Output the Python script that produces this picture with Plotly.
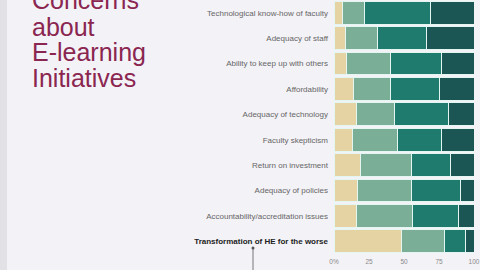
import plotly.graph_objects as go

categories = [
    "Technological know-how of faculty",
    "Adequacy of staff",
    "Ability to keep up with others",
    "Affordability",
    "Adequacy of technology",
    "Faculty skepticism",
    "Return on investment",
    "Adequacy of policies",
    "Accountability/accreditation issues",
    "Transformation of HE for the worse",
]
seg1 = [6, 8, 9, 14, 16, 13, 19, 17, 16, 48]
seg2 = [16, 23, 31, 26, 27, 32, 36, 38, 40, 31]
seg3 = [47, 35, 37, 35, 39, 32, 28, 35, 33, 15]
seg4 = [31, 34, 23, 25, 18, 23, 17, 10, 11, 6]
colors = ["#e6d3a3", "#7aae96", "#1f7b6d", "#1b5654"]
tick_vals = [0, 25, 50, 75, 100]
tick_text = ["0%", "25", "50", "75", "100"]
title_lines = ["Concerns", "about", "E-learning", "Initiatives"]

ticktext = categories[:-1] + ["<b><span style='color:#222222'>" + categories[-1] + "</span></b>"]

fig = go.Figure()
for vals, col in zip([seg1, seg2, seg3, seg4], colors):
    fig.add_trace(go.Bar(
        y=categories, x=vals, orientation="h",
        marker=dict(color=col, line=dict(color="#e4f6f2", width=1)),
        showlegend=False,
    ))

L, R = 334, 6
W, H = 480, 270
pw = W - L - R
fig.update_layout(
    width=W, height=H, autosize=False,
    barmode="stack", bargap=0.1,
    margin=dict(l=L, r=R, t=0, b=16),
    paper_bgcolor="#f3f2f7", plot_bgcolor="#f3f2f7",
    font=dict(family="Liberation Sans, Arial, sans-serif"),
    xaxis=dict(range=[0, 100], tickvals=tick_vals, ticktext=tick_text,
               showgrid=False, zeroline=False, showline=False,
               tickfont=dict(size=6.5, color="#8a8a8a"), ticklen=0, ticklabelstandoff=2),
    yaxis=dict(autorange="reversed", tickmode="array", tickvals=categories, ticktext=ticktext,
               tickfont=dict(size=8, color="#666666"), showgrid=False, zeroline=False,
               ticklen=0, ticklabelstandoff=5),
)

def px_x(px):
    return (px - L) / pw

def px_y(py):
    return 1 - py / (H - 16)

centers = [0, 27, 52, 78]
for txt, cy in zip(title_lines, centers):
    fig.add_annotation(text=txt, xref="paper", yref="paper", x=px_x(30), y=px_y(cy),
                       xanchor="left", yanchor="middle", showarrow=False,
                       font=dict(size=25, color="#8a2650"))

# left edge strip
fig.add_shape(type="rect", xref="paper", yref="paper", x0=px_x(0), x1=px_x(7), y0=px_y(270), y1=px_y(0),
              fillcolor="#e2e1e6", line=dict(width=0), layer="below")
# pointer line
fig.add_shape(type="line", xref="paper", yref="paper", x0=px_x(253), x1=px_x(253), y0=px_y(248), y1=px_y(270),
              line=dict(color="#777777", width=1))
fig.add_shape(type="circle", xref="paper", yref="paper", x0=px_x(251.5), x1=px_x(254.5), y0=px_y(249.5), y1=px_y(246.5),
              fillcolor="#555555", line=dict(width=0))

fig.write_html("out.html")
